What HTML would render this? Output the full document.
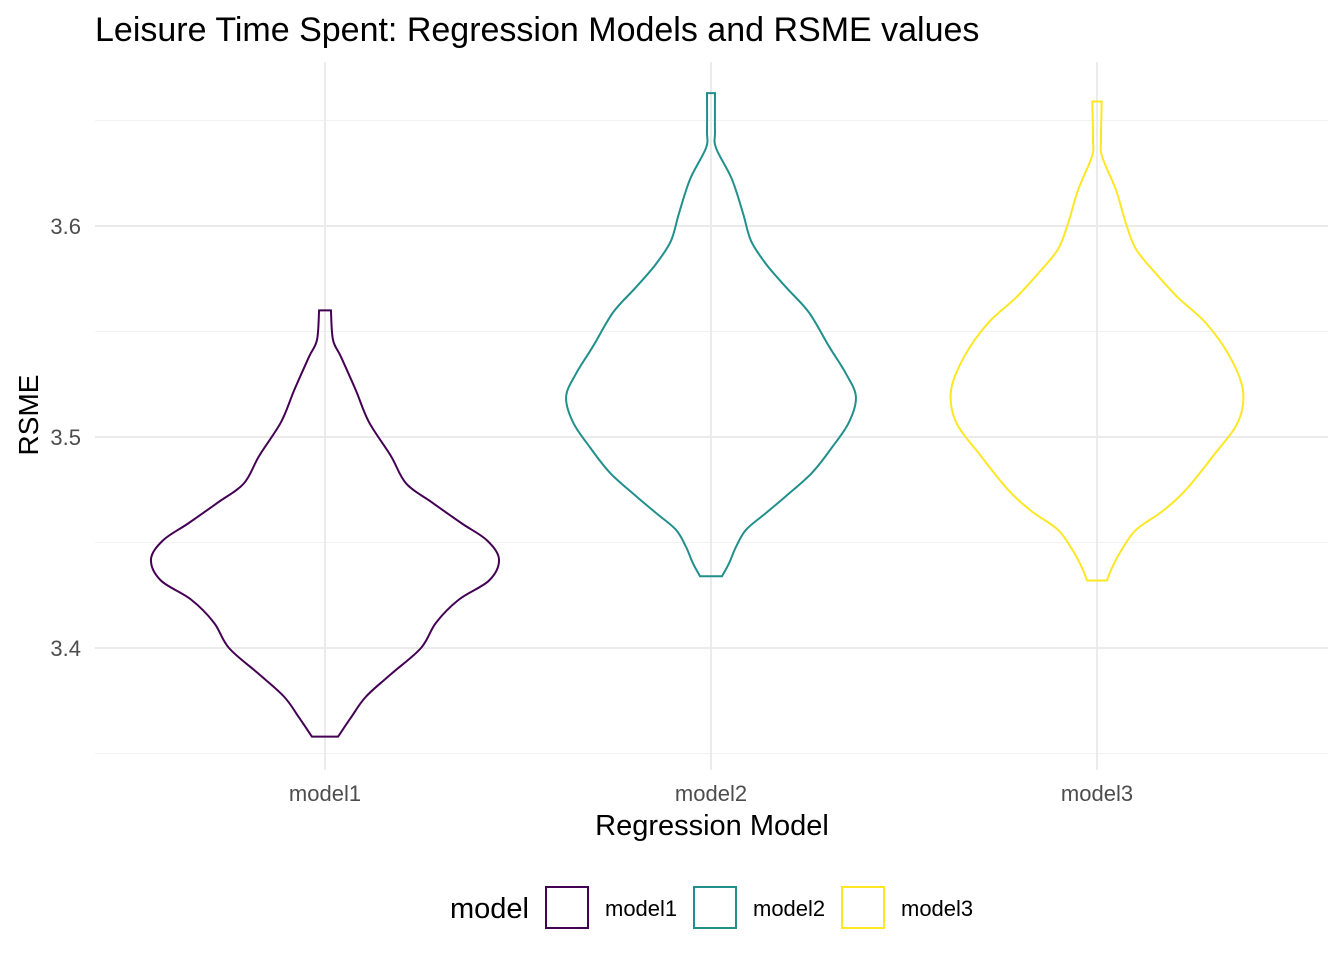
<!DOCTYPE html>
<html><head><meta charset="utf-8">
<style>
html,body{margin:0;padding:0;background:#fff;}
svg{display:block;font-family:"Liberation Sans",Arial,sans-serif;}
</style></head>
<body>
<svg id="chart" width="1344" height="960" viewBox="0 0 1344 960">
  <text x="95" y="41" font-size="34" fill="#000">Leisure Time Spent: Regression Models and RSME values</text>
  <g id="grid"></g>
  <g id="violins"></g>
  <g id="axes"></g>
  <text x="712" y="835" font-size="29" text-anchor="middle" fill="#000">Regression Model</text>
  <text transform="translate(38,415) rotate(-90)" font-size="28" text-anchor="middle" fill="#000">RSME</text>
  <g id="legend">
    <text x="450" y="918" font-size="29" fill="#000">model</text>
  </g>
</svg>
<script>
const categories = ["model1", "model2", "model3"];
const colors = ["#440154", "#21908C", "#FDE725"];
const yTicks = [3.4, 3.5, 3.6];
const yMinorTicks = [3.35, 3.45, 3.55, 3.65];
const yTickLabels = ["3.4", "3.5", "3.6"];
// violin profiles: RSME values and relative density (half-width)
const m1Values = [3.560,3.546,3.538,3.522,3.507,3.491,3.478,3.469,3.459,3.451,3.442,3.432,3.423,3.412,3.400,3.388,3.377,3.367,3.358];
const m1Density = [.034,.046,.092,.178,.253,.379,.466,.615,.787,.931,1,.943,.770,.638,.552,.385,.236,.149,.075];
const m2Values = [3.663,3.645,3.637,3.622,3.606,3.593,3.582,3.571,3.559,3.543,3.530,3.519,3.507,3.495,3.483,3.472,3.464,3.456,3.448,3.440,3.434];
const m2Density = [.023,.023,.029,.121,.184,.230,.316,.431,.563,.678,.776,.833,.793,.695,.580,.431,.316,.201,.144,.103,.063];
const m3Values = [3.659,3.641,3.633,3.617,3.601,3.589,3.578,3.566,3.554,3.538,3.522,3.507,3.491,3.475,3.465,3.456,3.446,3.438,3.432];
const m3Density = [.027,.023,.029,.109,.167,.224,.333,.466,.626,.764,.839,.810,.667,.511,.379,.224,.138,.086,.057];

const NS = "http://www.w3.org/2000/svg";
const panel = {left:95, right:1328, top:62, bottom:770};
function yScale(v){ return 226 + (3.6 - v) * 2110; }
function xScale(i){ return 325 + i * 386; }
const widthScale = 174;
function mk(tag, attrs, parent){
  const e = document.createElementNS(NS, tag);
  for (const k in attrs) e.setAttribute(k, attrs[k]);
  parent.appendChild(e); return e;
}
const grid = document.getElementById("grid");
yMinorTicks.forEach(v => {
  const l = mk("line", {x1:panel.left, x2:panel.right, y1:yScale(v), y2:yScale(v), stroke:"#f2f2f2", "stroke-width":1.1}, grid);
  
  
});
yTicks.forEach(v => {
  const l = mk("line", {x1:panel.left, x2:panel.right, y1:yScale(v), y2:yScale(v), stroke:"#ebebeb", "stroke-width":2}, grid);
  
  
});
categories.forEach((c, i) => {
  const l = mk("line", {x1:xScale(i), x2:xScale(i), y1:panel.top, y2:panel.bottom, stroke:"#ebebeb", "stroke-width":2}, grid);
  
  
});
const axes = document.getElementById("axes");
yTicks.forEach((v, i) => {
  const t = mk("text", {x:81, y:yScale(v)+8, "font-size":22, fill:"#4d4d4d", "text-anchor":"end"}, axes);
  t.textContent = yTickLabels[i];
  
  
});
categories.forEach((c, i) => {
  const t = mk("text", {x:xScale(i), y:801, "font-size":22, fill:"#4d4d4d", "text-anchor":"middle"}, axes);
  t.textContent = c;
  
  
});
function smooth(pts){
  let d = "M" + pts[0][0] + "," + pts[0][1];
  for (let i = 0; i < pts.length - 1; i++){
    const p0 = pts[Math.max(i-1,0)], p1 = pts[i], p2 = pts[i+1], p3 = pts[Math.min(i+2, pts.length-1)];
    const c1 = [p1[0] + (p2[0]-p0[0])/6, p1[1] + (p2[1]-p0[1])/6];
    const c2 = [p2[0] - (p3[0]-p1[0])/6, p2[1] - (p3[1]-p1[1])/6];
    d += " C" + c1[0].toFixed(1) + "," + c1[1].toFixed(1) + " " + c2[0].toFixed(1) + "," + c2[1].toFixed(1) + " " + p2[0].toFixed(1) + "," + p2[1].toFixed(1);
  }
  return d;
}
const vg = document.getElementById("violins");
const series = [[m1Values, m1Density], [m2Values, m2Density], [m3Values, m3Density]];
series.forEach((s, i) => {
  const cx = xScale(i);
  const right = s[0].map((v, k) => [cx + s[1][k]*widthScale, yScale(v)]);
  const left = s[0].map((v, k) => [cx - s[1][k]*widthScale, yScale(v)]).reverse();
  let d = smooth(right);
  d += " L" + left[0][0].toFixed(1) + "," + left[0][1].toFixed(1) + " " + smooth(left).slice(1).replace(/^[^C]*/, "");
  d += " Z";
  const p = mk("path", {d:d, fill:"none", stroke:colors[i], "stroke-width":2}, vg);
  
  
});
const lg = document.getElementById("legend");
categories.forEach((c, i) => {
  const x = 546 + i*148;
  const r = mk("rect", {x:x, y:887, width:42, height:41, fill:"#fff", stroke:colors[i], "stroke-width":2}, lg);
  
  
  const t = mk("text", {x:x+59, y:916, "font-size":22, fill:"#000"}, lg);
  t.textContent = c;
  
  
});
</script>
</body></html>
